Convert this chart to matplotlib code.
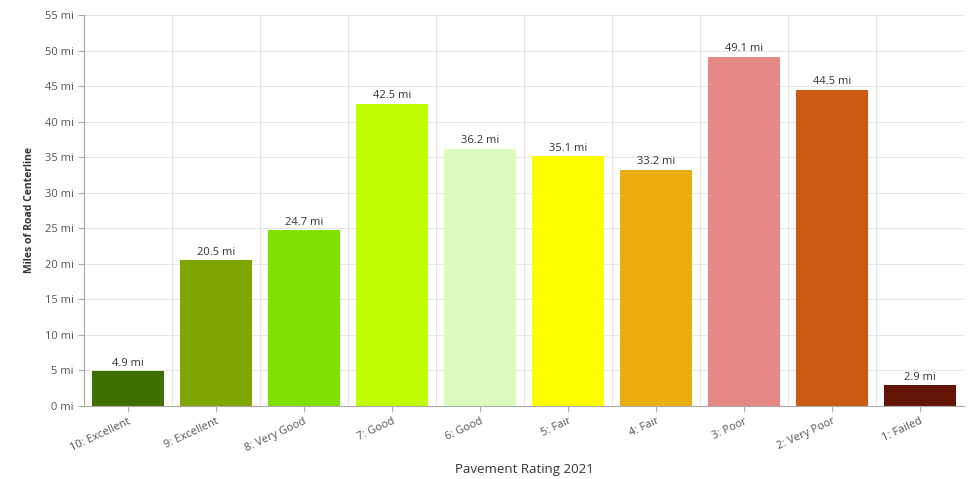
import matplotlib.pyplot as plt

# Pavement rating categories and miles of road centerline
ratings = ["10: Excellent", "9: Excellent", "8: Very Good", "7: Good", "6: Good",
           "5: Fair", "4: Fair", "3: Poor", "2: Very Poor", "1: Failed"]
miles = [4.9, 20.5, 24.7, 42.5, 36.2, 35.1, 33.2, 49.1, 44.5, 2.9]
colors = ["#3f6f00", "#80a600", "#80e100", "#bfff00", "#dcfcbd",
          "#ffff00", "#ebae0e", "#e68883", "#cb5a14", "#631505"]
y_ticks = list(range(0, 56, 5))

plt.rcParams['font.family'] = ['Open Sans', 'DejaVu Sans']

fig = plt.figure(figsize=(9.74, 4.79), dpi=100)
ax = fig.add_axes([0.0862, 0.1524, 0.9035, 0.8163])

x = range(len(ratings))
ax.bar(x, miles, width=0.81, color=colors, zorder=2)

for i, v in enumerate(miles):
    ax.text(i, v + 0.35, f"{v} mi", ha="center", va="bottom",
            fontsize=8, color="#333333")

ax.set_xlim(-0.5, len(ratings) - 0.5)
ax.set_ylim(0, 55)
ax.set_yticks(y_ticks)
ax.set_yticklabels([f"{t} mi" for t in y_ticks])
ax.set_xticks(list(x))
ax.set_xticklabels(ratings, rotation=25, ha="right", rotation_mode="anchor")

# grid: horizontal at each tick, vertical between categories
ax.set_xticks([i - 0.5 for i in range(len(ratings) + 1)], minor=True)
ax.grid(axis="y", which="major", color="#e4e4e4", linewidth=0.8, zorder=0)
ax.grid(axis="x", which="minor", color="#e4e4e4", linewidth=0.8, zorder=0)

ax.tick_params(axis="both", which="major", labelsize=8, labelcolor="#555555",
               color="#aaaaaa", length=4, width=0.8)
ax.tick_params(axis="x", which="minor", length=0)
ax.tick_params(axis="x", pad=3)

for side in ["top", "right"]:
    ax.spines[side].set_visible(False)
for side in ["left", "bottom"]:
    ax.spines[side].set_color("#aaaaaa")
    ax.spines[side].set_linewidth(0.8)

ax.set_ylabel("Miles of Road Centerline", fontsize=7.5, fontweight="bold",
              color="#333333", labelpad=7)
ax.set_xlabel("Pavement Rating 2021", fontsize=9.5, color="#333333", labelpad=7)

fig.savefig("out.png", dpi=100)
